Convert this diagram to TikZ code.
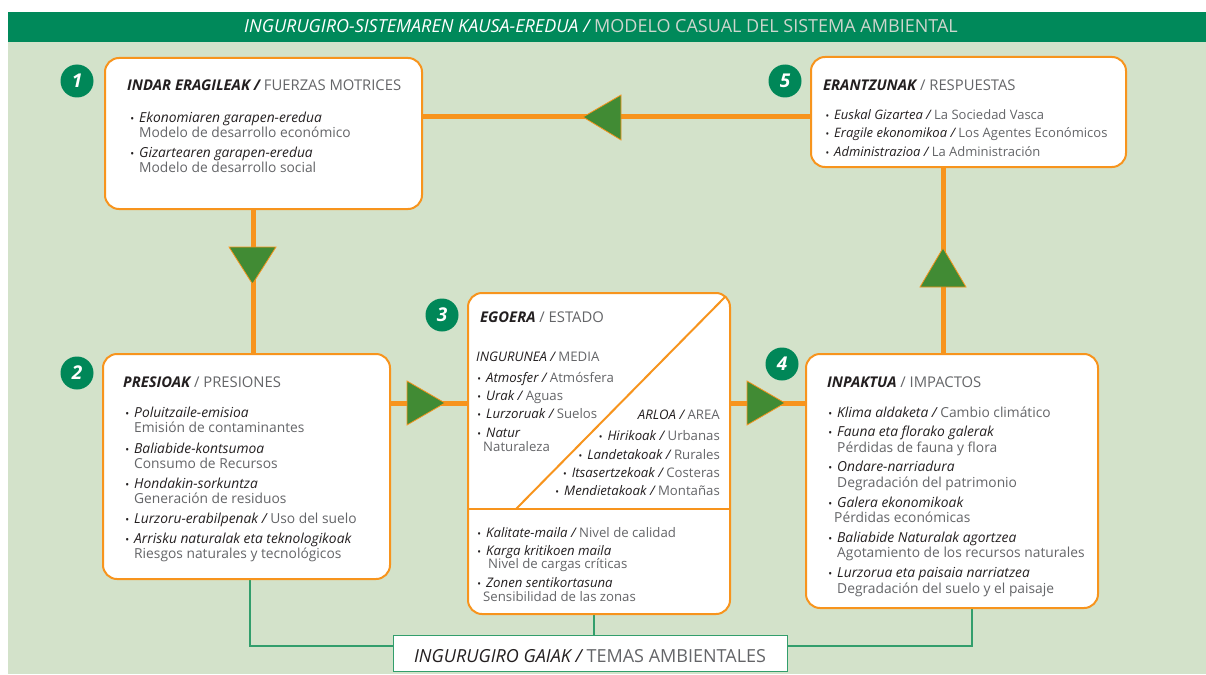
\documentclass[tikz,border=0pt]{standalone}
\usepackage{fontspec}
\setmainfont{Open Sans}
\usetikzlibrary{backgrounds}

\definecolor{bandgreen}{RGB}{0,137,90}
\definecolor{fieldgreen}{RGB}{211,226,202}
\definecolor{flow}{RGB}{247,148,29}
\definecolor{arrowgreen}{RGB}{65,139,52}
\definecolor{badgegreen}{RGB}{0,135,88}
\definecolor{linkgreen}{RGB}{50,158,108}
\definecolor{eutxt}{RGB}{35,31,32}
\definecolor{estxt}{RGB}{100,101,104}
\definecolor{bandes}{RGB}{205,214,205}

% Basque text (italic, dark), Spanish text (upright, grey), headings
\newcommand\euT[1]{{\color{eutxt}\itshape #1}}
\newcommand\esT[1]{{\color{estxt}#1}}
\newcommand\hdT[1]{{\color{eutxt}\bfseries\itshape #1}}
\newcommand\bmark{\llap{{\color{eutxt}\scalebox{0.75}{\textbullet}}\kern5pt}}
\newcommand\bmarkin{{\color{eutxt}\scalebox{0.75}{\textbullet}}\kern5pt}

\begin{document}
\begin{tikzpicture}[x=1pt,y=-1pt,
  panel/.style={draw=flow, line width=2pt, fill=white, rounded corners=14pt,
    inner sep=0pt, anchor=north west},
  themebox/.style={draw=linkgreen, line width=1.2pt, fill=white, inner sep=0pt,
    anchor=north west},
  flowline/.style={draw=flow, line width=5pt},
  linkline/.style={draw=linkgreen, line width=1.2pt},
  pointer/.style={fill=arrowgreen, draw=flow, line width=0.8pt, line join=miter},
  badge/.style={circle, fill=badgegreen, text=white, minimum size=33pt, inner sep=0pt,
    font=\fontsize{19}{19}\selectfont\bfseries\itshape},
  hd/.style={anchor=base west, inner sep=0pt, font=\fontsize{14.8}{15}\selectfont},
  itm/.style={anchor=base west, inner sep=0pt, font=\fontsize{13.8}{15}\selectfont},
  rsp/.style={anchor=base west, inner sep=0pt, font=\fontsize{13}{15}\selectfont},
  sm/.style={anchor=base west, inner sep=0pt, font=\fontsize{13.2}{14}\selectfont},
  smr/.style={anchor=base east, inner sep=0pt, font=\fontsize{13.2}{14}\selectfont}]
\useasboundingbox (0,0) rectangle (1206,674);

% the five stages
\node[panel, minimum width=317pt, minimum height=151pt] (drive) at (104,57) {};
\node[panel, minimum width=315pt, minimum height=110pt] (resp) at (810,56) {};
\node[panel, minimum width=287pt, minimum height=225pt] (press) at (102,353) {};
\node[panel, minimum width=262pt, minimum height=321pt] (state) at (467,292) {};
\node[panel, minimum width=292pt, minimum height=254pt] (impact) at (805,353) {};
\node[themebox, minimum width=394pt, minimum height=36pt] (themes) at (393,635) {};

% helper rows and columns for the connectors
\coordinate (rowtop) at (0,117);
\coordinate (rowmid) at (0,403);
\coordinate (rowlink) at (0,646);
\coordinate (rowcut) at (0,509);
\coordinate (colA) at (253,0);
\coordinate (colB) at (943,0);
\coordinate (colL) at (250,0);
\coordinate (colM) at (594,0);
\coordinate (colR) at (972,0);

\begin{scope}[on background layer]
  \fill[white] (0,0) rectangle (1206,674);
  \fill[fieldgreen] (8,42) rectangle (1206,674);
  \fill[bandgreen] (8,12) rectangle (1206,42);
  \draw[flowline] (resp.west |- rowtop) -- (drive.east |- rowtop);
  \draw[flowline] (drive.south -| colA) -- (press.north -| colA);
  \draw[flowline] (press.east |- rowmid) -- (state.west |- rowmid);
  \draw[flowline] (state.east |- rowmid) -- (impact.west |- rowmid);
  \draw[flowline] (impact.north -| colB) -- (resp.south -| colB);
  \draw[linkline] (press.south -| colL) |- (themes.west |- rowlink);
  \draw[linkline] (state.south -| colM) -- (themes.north -| colM);
  \draw[linkline] (impact.south -| colR) |- (themes.east |- rowlink);
\end{scope}

% direction marks on the cycle
\filldraw[pointer] (583,117) -- (621,95) -- (621,140) -- cycle;
\filldraw[pointer] (229,247) -- (276,247) -- (252.5,284) -- cycle;
\filldraw[pointer] (445,403) -- (407,381) -- (407,425) -- cycle;
\filldraw[pointer] (785,403) -- (747,381) -- (747,425) -- cycle;
\filldraw[pointer] (943,248) -- (920,287) -- (966,287) -- cycle;

% split of the state panel
\draw[flow, line width=2pt] (state.west |- rowcut) -- (state.east |- rowcut);
\draw[flow, line width=2pt] (516,509) -- (725,297);

% banner
\node[anchor=base, inner sep=0pt, font=\fontsize{18}{18}\selectfont] (banner) at (601,33)
  {{\color{white}\itshape INGURUGIRO-SISTEMAREN KAUSA-EREDUA /} {\color{bandes}MODELO CASUAL DEL SISTEMA AMBIENTAL}};

% 1 driving forces
\node[hd] (drive-h) at (127,91) {\hdT{INDAR ERAGILEAK /} \esT{FUERZAS MOTRICES}};
\node[itm] (drive-1) at (139,122) {\bmark\euT{Ekonomiaren garapen-eredua}};
\node[itm] (drive-1s) at (139,137) {\esT{Modelo de desarrollo económico}};
\node[itm] (drive-2) at (139,157) {\bmark\euT{Gizartearen garapen-eredua}};
\node[itm] (drive-2s) at (139,172) {\esT{Modelo de desarrollo social}};

% 5 responses
\node[hd] (resp-h) at (823,91) {\hdT{ERANTZUNAK} \esT{/ RESPUESTAS}};
\node[rsp] (resp-1) at (834,119) {\bmark\euT{Euskal Gizartea /} \esT{La Sociedad Vasca}};
\node[rsp] (resp-2) at (834,137) {\bmark\euT{Eragile ekonomikoa /} \esT{Los Agentes Económicos}};
\node[rsp] (resp-3) at (834,156) {\bmark\euT{Administrazioa /} \esT{La Administración}};

% 2 pressures
\node[hd] (press-h) at (123,387) {\hdT{PRESIOAK} \esT{/ PRESIONES}};
\node[itm] (press-1) at (134,417) {\bmark\euT{Poluitzaile-emisioa}};
\node[itm] (press-1s) at (134,432) {\esT{Emisión de contaminantes}};
\node[itm] (press-2) at (134,453) {\bmark\euT{Baliabide-kontsumoa}};
\node[itm] (press-2s) at (134,468) {\esT{Consumo de Recursos}};
\node[itm] (press-3) at (134,488) {\bmark\euT{Hondakin-sorkuntza}};
\node[itm] (press-3s) at (134,503) {\esT{Generación de residuos}};
\node[itm] (press-4) at (134,523) {\bmark\euT{Lurzoru-erabilpenak /} \esT{Uso del suelo}};
\node[itm] (press-5) at (134,543) {\bmark\euT{Arrisku naturalak eta teknologikoak}};
\node[itm] (press-5s) at (134,558) {\esT{Riesgos naturales y tecnológicos}};

% 3 state
\node[hd] (state-h) at (480,322) {\hdT{EGOERA} \esT{/ ESTADO}};
\node[sm] (state-m) at (476,361) {\euT{INGURUNEA /} \esT{MEDIA}};
\node[sm] (state-m1) at (486,382) {\bmark\euT{Atmosfer /} \esT{Atmósfera}};
\node[sm] (state-m2) at (486,400) {\bmark\euT{Urak /} \esT{Aguas}};
\node[sm] (state-m3) at (486,418) {\bmark\euT{Lurzoruak /} \esT{Suelos}};
\node[sm] (state-m4) at (486,437) {\bmark\euT{Natur}};
\node[sm] (state-m4s) at (483,451) {\esT{Naturaleza}};
\node[smr] (state-a) at (720,419) {\euT{ARLOA /} \esT{AREA}};
\node[smr] (state-a1) at (720,440) {\bmarkin\euT{Hirikoak /} \esT{Urbanas}};
\node[smr] (state-a2) at (720,459) {\bmarkin\euT{Landetakoak /} \esT{Rurales}};
\node[smr] (state-a3) at (720,477) {\bmarkin\euT{Itsasertzekoak /} \esT{Costeras}};
\node[smr] (state-a4) at (720,495) {\bmarkin\euT{Mendietakoak /} \esT{Montañas}};
\node[sm] (state-q1) at (486,537) {\bmark\euT{Kalitate-maila /} \esT{Nivel de calidad}};
\node[sm] (state-q2) at (486,555) {\bmark\euT{Karga kritikoen maila}};
\node[sm] (state-q2s) at (488,568) {\esT{Nivel de cargas críticas}};
\node[sm] (state-q3) at (486,587) {\bmark\euT{Zonen sentikortasuna}};
\node[sm] (state-q3s) at (483,601) {\esT{Sensibilidad de las zonas}};

% 4 impacts
\node[hd] (impact-h) at (827,387) {\hdT{INPAKTUA} \esT{/ IMPACTOS}};
\node[itm] (impact-1) at (837,417) {\bmark\euT{Klima aldaketa /} \esT{Cambio climático}};
\node[itm] (impact-2) at (837,436) {\bmark\euT{Fauna eta florako galerak}};
\node[itm] (impact-2s) at (837,452) {\esT{Pérdidas de fauna y flora}};
\node[itm] (impact-3) at (837,471) {\bmark\euT{Ondare-narriadura}};
\node[itm] (impact-3s) at (837,487) {\esT{Degradación del patrimonio}};
\node[itm] (impact-4) at (837,507) {\bmark\euT{Galera ekonomikoak}};
\node[itm] (impact-4s) at (834,522) {\esT{Pérdidas económicas}};
\node[itm] (impact-5) at (837,542) {\bmark\euT{Baliabide Naturalak agortzea}};
\node[itm] (impact-5s) at (837,557) {\esT{Agotamiento de los recursos naturales}};
\node[itm] (impact-6) at (837,577) {\bmark\euT{Lurzorua eta paisaia narriatzea}};
\node[itm] (impact-6s) at (837,593) {\esT{Degradación del suelo y el paisaje}};

% environmental themes
\node[anchor=base, inner sep=0pt, font=\fontsize{18}{18}\selectfont] (themes-t) at (590,662)
  {\euT{INGURUGIRO GAIAK /} \esT{TEMAS AMBIENTALES}};

% stage numbers
\node[badge] (n1) at (77,81) {1};
\node[badge] (n2) at (77,373) {2};
\node[badge] (n3) at (442,315) {3};
\node[badge] (n4) at (782,364) {4};
\node[badge] (n5) at (785,81) {5};
\end{tikzpicture}
\end{document}
